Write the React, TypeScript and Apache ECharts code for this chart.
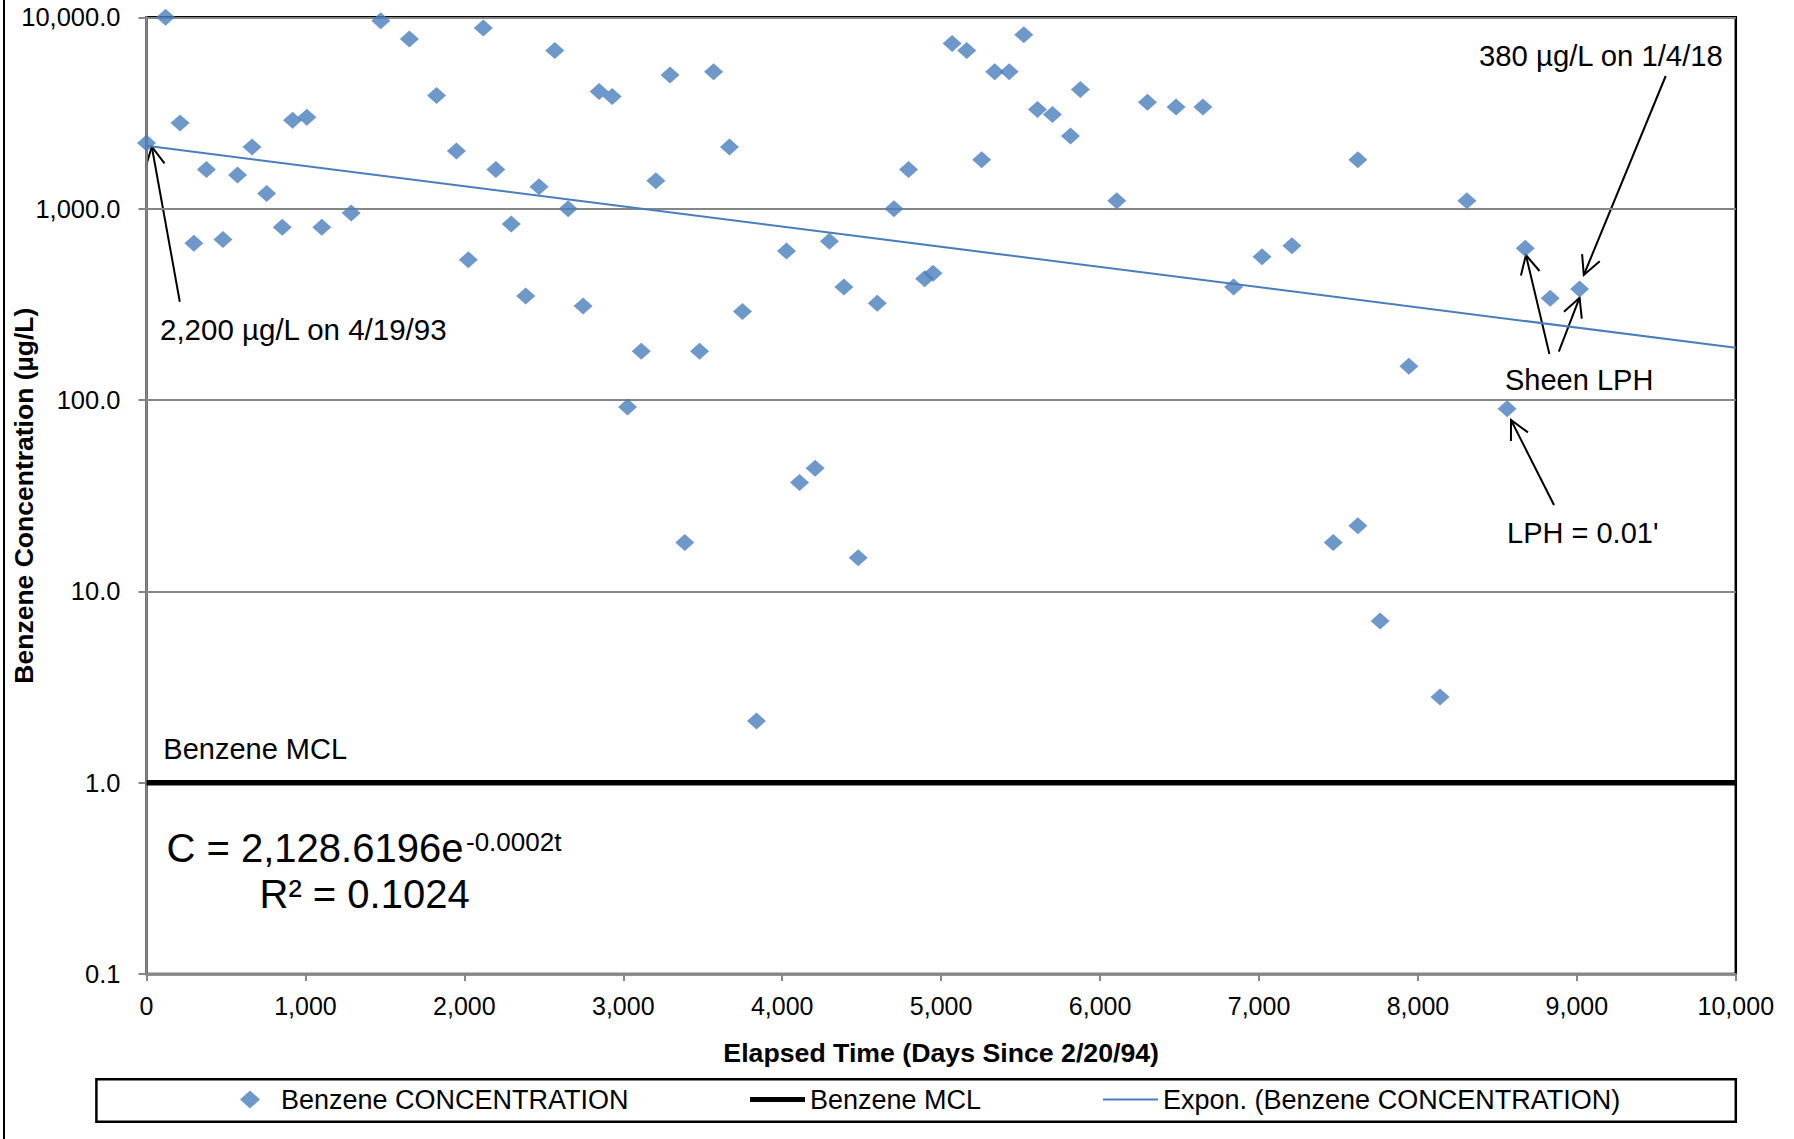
import React, { useEffect, useRef } from "react";
import * as echarts from "echarts";

// ---- Data ----
const ELAPSED_DAYS = [
  0, 120, 211, 298, 377, 481, 573, 664, 756, 854, 919, 1009, 1103, 1288, 1474, 1654, 1825, 1950, 2025, 2119,
  2198, 2295, 2386, 2470, 2569, 2653, 2747, 2848, 2930, 3027, 3113, 3205, 3294, 3387, 3480, 3568, 3668, 3750,
  3838, 4027, 4109, 4207, 4297, 4388, 4478, 4598, 4703, 4795, 4896, 4949, 5069, 5161, 5255, 5337, 5428, 5520,
  5606, 5700, 5814, 5876, 6105, 6298, 6478, 6647, 6840, 7019, 7207, 7467, 7622, 7622, 7762, 7943, 8139, 8308,
  8561, 8675, 8832, 9017,
];
const BENZENE_UG_L = [
  2200, 10000, 2800, 660, 1600, 690, 1500, 2100, 1200, 800, 2900, 3000, 800, 950, 9600, 7700, 3900, 2000, 540, 8800,
  1600, 830, 350, 1300, 6700, 1000, 310, 4100, 3850, 92, 180, 1400, 5000, 18, 180, 5200, 2100, 290,
  2.1, 600, 37, 44, 675, 390, 15, 320, 1000, 1600, 430, 460, 7300, 6700, 1800, 5200, 5200, 8100,
  3300, 3100, 2400, 4200, 1100, 3600, 3400, 3400, 390, 560, 640, 18, 1800, 22, 7, 150, 2.8, 1100,
  90, 620, 340, 380,
];
const MCL_UG_L = 1;
const X_RANGE = [0, 10000];
const Y_RANGE = [0.1, 10000];
// Exponential trend C = A * e^(-k t) (k as drawn; label rounds it to 0.0002)
const TREND_A = 2128.6196;
const TREND_K = 0.000243;

const SERIES_POINTS = "Benzene CONCENTRATION";
const SERIES_MCL = "Benzene MCL";
const SERIES_TREND = "Expon. (Benzene CONCENTRATION)";

const FONT = "'Liberation Sans', Arial, Helvetica, sans-serif";
const BLUE = "#4A7EBB";
const GRAY = "#868686";

function arrow(tail: number[], tip: number[]) {
  const dx = tail[0] - tip[0];
  const dy = tail[1] - tip[1];
  const len = Math.hypot(dx, dy);
  const ux = dx / len;
  const uy = dy / len;
  const a = (27 * Math.PI) / 180;
  const h = 21;
  const rot = (s: number) => [
    tip[0] + h * (ux * Math.cos(s * a) - uy * Math.sin(s * a)),
    tip[1] + h * (ux * Math.sin(s * a) + uy * Math.cos(s * a)),
  ];
  const st = { stroke: "#000", lineWidth: 2, fill: "none" };
  return [
    { type: "polyline", shape: { points: [tail, tip] }, style: st, silent: true },
    { type: "polyline", shape: { points: [rot(1), tip, rot(-1)] }, style: st, silent: true },
  ];
}

function txt(text: string, x: number, y: number, size: number, extra: any = {}) {
  return {
    type: "text",
    x,
    y,
    silent: true,
    style: {
      text,
      fontSize: size,
      fontFamily: FONT,
      fill: "#000",
      align: "left",
      verticalAlign: "middle",
      textAlign: "left",
      textVerticalAlign: "middle",
      ...extra,
    },
  };
}

export default function App() {
  const ref = useRef<HTMLDivElement>(null);
  useEffect(() => {
    if (!ref.current) return;
    const chart = echarts.init(ref.current, undefined, { renderer: "svg" });
    const points = ELAPSED_DAYS.map((t, i) => [t, BENZENE_UG_L[i]]);
    const trend = X_RANGE.map((t) => [t, TREND_A * Math.exp(-TREND_K * t)]);
    const mcl = X_RANGE.map((t) => [t, MCL_UG_L]);

    const legendText = { fontSize: 27, fontFamily: FONT, color: "#000" };

    chart.setOption({
      animation: false,
      backgroundColor: "#fff",
      textStyle: { fontFamily: FONT },
      grid: {
        left: 146.5,
        top: 17.3,
        right: 58.2,
        bottom: 165,
        containLabel: false,
        outerBoundsMode: "none",
        show: true,
        borderColor: "#000",
        borderWidth: 2.5,
        backgroundColor: "transparent",
      },
      xAxis: {
        type: "value",
        min: X_RANGE[0],
        max: X_RANGE[1],
        interval: 1000,
        axisLine: { show: true, onZero: false, lineStyle: { color: GRAY, width: 2.5 } },
        axisTick: { show: true, inside: false, length: 7, lineStyle: { color: GRAY, width: 2 } },
        splitLine: { show: false },
        axisLabel: {
          fontSize: 25,
          color: "#000",
          fontFamily: FONT,
          margin: 19,
          hideOverlap: false,
          formatter: (v: number) => v.toLocaleString("en-US"),
        },
        name: "Elapsed Time (Days Since 2/20/94)",
        nameLocation: "middle",
        nameGap: 65,
        nameMoveOverlap: false,
        nameTextStyle: { fontSize: 26.7, fontWeight: "bold", color: "#000", fontFamily: FONT },
      },
      yAxis: {
        type: "log",
        logBase: 10,
        min: Y_RANGE[0],
        max: Y_RANGE[1],
        splitNumber: 5,
        axisLine: { show: true, onZero: false, lineStyle: { color: GRAY, width: 2.5 } },
        axisTick: { show: true, inside: false, length: 8, lineStyle: { color: GRAY, width: 2 } },
        minorTick: { show: false },
        splitLine: { show: true, lineStyle: { color: GRAY, width: 2 } },
        axisLabel: {
          fontSize: 25.5,
          color: "#000",
          fontFamily: FONT,
          margin: 26,
          formatter: (v: number) =>
            v.toLocaleString("en-US", { minimumFractionDigits: 1, maximumFractionDigits: 1 }),
        },
        name: "Benzene Concentration (µg/L)",
        nameLocation: "middle",
        nameGap: 109,
        nameMoveOverlap: false,
        nameTextStyle: { fontSize: 26.5, fontWeight: "bold", color: "#000", fontFamily: FONT },
      },
      legend: [
        {
          data: [SERIES_POINTS],
          left: 240,
          top: 1086,
          padding: 0,
          icon: "diamond",
          itemWidth: 20,
          itemHeight: 18,
          selectedMode: false,
          textStyle: { ...legendText, padding: [0, 0, 0, 16] },
        },
        {
          data: [SERIES_MCL],
          left: 750,
          top: 1086,
          padding: 0,
          icon: "rect",
          itemWidth: 55,
          itemHeight: 5,
          selectedMode: false,
          textStyle: legendText,
        },
        {
          data: [SERIES_TREND],
          left: 1103,
          top: 1086,
          padding: 0,
          icon: "rect",
          itemWidth: 55,
          itemHeight: 2,
          selectedMode: false,
          textStyle: legendText,
        },
      ],
      series: [
        {
          name: SERIES_TREND,
          type: "line",
          data: trend,
          color: BLUE,
          symbol: "none",
          lineStyle: { color: BLUE, width: 2 },
          itemStyle: { color: BLUE },
          silent: true,
          z: 2,
        },
        {
          name: SERIES_MCL,
          type: "line",
          data: mcl,
          color: "#000",
          symbol: "none",
          lineStyle: { color: "#000", width: 5.5 },
          itemStyle: { color: "#000" },
          silent: true,
          z: 3,
        },
        {
          name: SERIES_POINTS,
          type: "scatter",
          data: points,
          symbol: "diamond",
          symbolSize: [19, 17],
          color: BLUE,
          itemStyle: { color: BLUE },
          clip: false,
          silent: true,
          z: 4,
        },
      ],
      graphic: [
        { type: "line", shape: { x1: 4, y1: 0, x2: 4, y2: 1139 }, style: { stroke: "#000", lineWidth: 2 }, silent: true },
        {
          type: "rect",
          shape: { x: 96.4, y: 1079.3, width: 1639.4, height: 42.4 },
          style: { fill: "none", stroke: "#000", lineWidth: 2.5 },
          silent: true,
        },
        txt("2,200 µg/L on 4/19/93", 160, 329.7, 29.5),
        txt("380 µg/L on 1/4/18", 1479, 55.8, 29.3),
        txt("Sheen LPH", 1505, 380.3, 29),
        txt("LPH = 0.01'", 1507, 533.3, 29),
        txt("Benzene MCL", 163.3, 749.3, 29),
        txt("C = 2,128.6196e", 166.5, 847.5, 40),
        txt("-0.0002t", 466, 842, 26),
        txt("R² = 0.1024", 259.5, 894, 40),
        ...arrow([179.8, 301.7], [151.8, 146.7]),
        ...arrow([1665.7, 76], [1583.8, 275]),
        ...arrow([1549.4, 354], [1525.9, 255]),
        ...arrow([1558.8, 351.7], [1579.6, 297.7]),
        ...arrow([1554, 505], [1511, 420]),
      ],
    });
    return () => chart.dispose();
  }, []);

  return (
    <div
      ref={ref}
      style={{ position: "fixed", left: 0, top: 0, width: 1794, height: 1139, background: "#fff" }}
    />
  );
}
